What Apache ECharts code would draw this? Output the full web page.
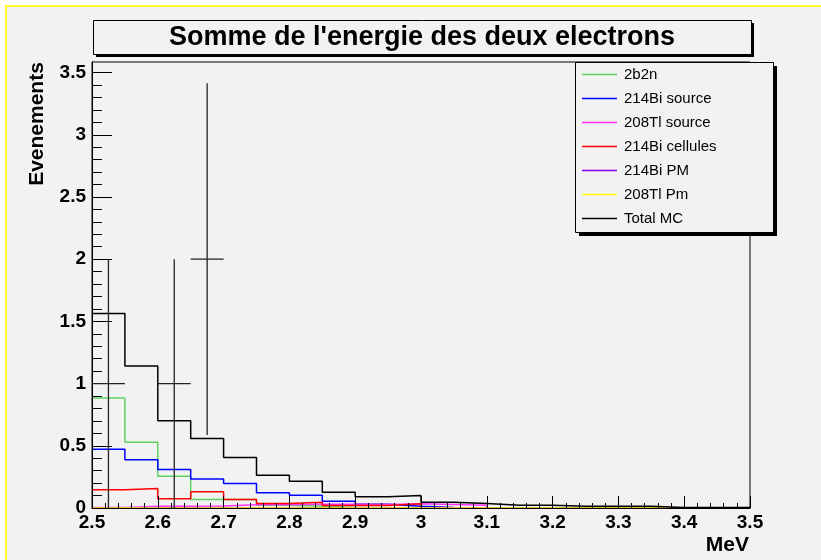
<!DOCTYPE html>
<html>
<head>
<meta charset="utf-8">
<script src="https://cdn.jsdelivr.net/npm/echarts@6/dist/echarts.min.js"></script>
<style>
html, body { margin: 0; padding: 0; background: #ffffff; }
#chart { width: 821px; height: 560px; }
</style>
</head>
<body>
<div id="chart"></div>
<script>
// Energy bins (MeV): 20 bins of 0.05 from 2.5 to 3.5
const binEdges = [2.5, 2.55, 2.6, 2.65, 2.7, 2.75, 2.8, 2.85, 2.9, 2.95, 3.0,
                  3.05, 3.1, 3.15, 3.2, 3.25, 3.3, 3.35, 3.4, 3.45, 3.5];

// Monte-Carlo histograms (events per bin)
const h2b2n        = [0.884, 0.528, 0.255, 0.068, 0.068, 0.022, 0.014, 0.004, 0.002, 0, 0, 0, 0, 0, 0, 0, 0, 0, 0, 0];
const hBiSource    = [0.472, 0.387, 0.309, 0.234, 0.196, 0.122, 0.103, 0.055, 0.030, 0.014, 0.005, 0, 0, 0, 0, 0, 0, 0, 0, 0];
const hTlSource    = [0.004, 0.014, 0.014, 0.016, 0.026, 0.026, 0.030, 0.031, 0.028, 0.034, 0.028, 0.022, 0, 0, 0, 0, 0, 0, 0, 0];
const hBiCellules  = [0.146, 0.157, 0.074, 0.130, 0.068, 0.036, 0.047, 0.020, 0.020, 0.034, 0, 0, 0, 0, 0, 0, 0, 0, 0, 0];
const hBiPM        = [0, 0, 0, 0, 0, 0, 0, 0, 0, 0, 0, 0, 0, 0, 0, 0, 0, 0, 0, 0];
const hTlPm        = [0, 0, 0, 0, 0, 0, 0, 0, 0, 0, 0, 0, 0, 0, 0, 0, 0, 0, 0, 0];
const hTotalMC     = [1.563, 1.141, 0.702, 0.558, 0.405, 0.263, 0.215, 0.127, 0.090, 0.100, 0.047, 0.036, 0.022, 0.022, 0.014, 0.014, 0.014, 0.004, 0.004, 0.004];

// Measured events: bin centre, count, statistical error
const dataX   = [2.525, 2.625, 2.675];
const dataY   = [1, 1, 2];
const dataErr = [1, 1, 1.414];

// Axis ticks
const xMax = 3.5, xMin = 2.5, xStep = 0.1;
const yMax = 3.585;
const yMajor = [0, 0.5, 1, 1.5, 2, 2.5, 3, 3.5];
const yMinor = [0.1, 0.2, 0.3, 0.4, 0.6, 0.7, 0.8, 0.9, 1.1, 1.2, 1.3, 1.4, 1.6, 1.7, 1.8, 1.9,
                2.1, 2.2, 2.3, 2.4, 2.6, 2.7, 2.8, 2.9, 3.1, 3.2, 3.3, 3.4];

const FONT = "'Liberation Sans', Arial, Helvetica, sans-serif";

// Turn per-bin contents into a stepped outline
function steps(values) {
  const pts = [];
  for (let i = 0; i < values.length; i++) {
    pts.push([binEdges[i], values[i]]);
    pts.push([binEdges[i + 1], values[i]]);
  }
  return pts;
}

function histSeries(name, values, color) {
  return {
    name: name,
    type: 'line',
    data: steps(values),
    symbol: 'none',
    showSymbol: false,
    color: color,
    lineStyle: { color: color, width: 1.5 },
    animation: false,
    z: 2
  };
}

const halfBin = (binEdges[1] - binEdges[0]) / 2;
const dataPoints = dataX.map((x, i) => [x, dataY[i], dataErr[i], halfBin]);

const chart = echarts.init(document.getElementById('chart'), null, { renderer: 'canvas' });

chart.setOption({
  backgroundColor: '#f2f2f2',
  animation: false,
  textStyle: { fontFamily: FONT },
  grid: {
    left: 92, right: 71, top: 62, bottom: 52,
    show: true, borderColor: '#000', borderWidth: 1, backgroundColor: 'transparent'
  },
  xAxis: {
    type: 'value', min: xMin, max: xMax, interval: xStep, z: 3,
    axisLine: { lineStyle: { color: '#000', width: 1 } },
    axisTick: { inside: true, length: 12, lineStyle: { color: '#000' } },
    minorTick: { show: true, splitNumber: 5, length: 5, lineStyle: { color: '#000' } },
    splitLine: { show: false },
    axisLabel: { color: '#000', fontSize: 19, fontWeight: 'bold', fontFamily: FONT, margin: 5 }
  },
  yAxis: [
    {
      type: 'value', min: 0, max: yMax, position: 'left', z: 3,
      axisLine: { show: true, lineStyle: { color: '#000', width: 1 } },
      axisTick: { show: true, inside: true, length: 20, customValues: yMajor, lineStyle: { color: '#000' } },
      splitLine: { show: false },
      axisLabel: { customValues: yMajor, color: '#000', fontSize: 19, fontWeight: 'bold', fontFamily: FONT, margin: 6 }
    },
    {
      type: 'value', min: 0, max: yMax, position: 'left', offset: 0, z: 3,
      axisLine: { show: false },
      axisTick: { show: true, inside: true, length: 10, customValues: yMinor, lineStyle: { color: '#000' } },
      splitLine: { show: false },
      axisLabel: { show: false }
    }
  ],
  legend: {
    data: ['2b2n', '214Bi source', '208Tl source', '214Bi cellules', '214Bi PM', '208Tl Pm', 'Total MC'],
    orient: 'vertical', left: 582, top: 67, padding: 0, z: 30,
    icon: 'rect', itemWidth: 35, itemHeight: 1.5, itemGap: 9,
    selectedMode: false,
    textStyle: { color: '#000', fontSize: 15, fontFamily: FONT, lineHeight: 15, padding: [0, 0, 0, 2] }
  },
  graphic: [
    // page edge
    { type: 'rect', shape: { x: 0, y: 0, width: 821, height: 5 }, style: { fill: '#ffffff' }, silent: true },
    { type: 'rect', shape: { x: 0, y: 0, width: 5, height: 560 }, style: { fill: '#ffffff' }, silent: true },
    { type: 'rect', shape: { x: 5, y: 5, width: 816, height: 2 }, style: { fill: '#ffff33' }, silent: true },
    { type: 'rect', shape: { x: 5, y: 5, width: 2, height: 555 }, style: { fill: '#ffff33' }, silent: true },
    // title box with shadow
    { type: 'rect', shape: { x: 96, y: 23, width: 658, height: 34 }, style: { fill: '#000' }, silent: true, z: 10 },
    { type: 'rect', shape: { x: 93.5, y: 20.5, width: 658, height: 34 }, style: { fill: '#f2f2f2', stroke: '#000', lineWidth: 1 }, silent: true, z: 11 },
    { type: 'text', x: 422, y: 38, style: { text: "Somme de l'energie des deux electrons", fill: '#000', font: 'bold 27px ' + FONT, align: 'center', verticalAlign: 'middle' }, silent: true, z: 12 },
    // legend box with shadow
    { type: 'rect', shape: { x: 579, y: 66, width: 198, height: 170 }, style: { fill: '#000' }, silent: true, z: 10 },
    { type: 'rect', shape: { x: 575.5, y: 62.5, width: 198, height: 170 }, style: { fill: '#f2f2f2', stroke: '#000', lineWidth: 1 }, silent: true, z: 11 },
    // axis titles
    { type: 'text', x: 749, y: 545, style: { text: 'MeV', fill: '#000', font: 'bold 21px ' + FONT, align: 'right', verticalAlign: 'middle' }, silent: true },
    { type: 'text', x: 37, y: 124, rotation: Math.PI / 2, style: { text: 'Evenements', fill: '#000', font: 'bold 21px ' + FONT, align: 'center', verticalAlign: 'middle' }, silent: true }
  ],
  series: [
    histSeries('2b2n', h2b2n, '#5fd35f'),
    histSeries('214Bi source', hBiSource, '#0000ff'),
    histSeries('208Tl source', hTlSource, '#ff33ff'),
    histSeries('214Bi cellules', hBiCellules, '#ff0000'),
    histSeries('214Bi PM', hBiPM, '#8800ff'),
    histSeries('208Tl Pm', hTlPm, '#ffff00'),
    histSeries('Total MC', hTotalMC, '#000000'),
    {
      name: 'data',
      type: 'custom',
      data: dataPoints,
      z: 5,
      animation: false,
      renderItem: function (params, api) {
        const x = api.value(0), y = api.value(1), e = api.value(2), hw = api.value(3);
        const top = api.coord([x, y + e]);
        const bot = api.coord([x, y - e]);
        const l = api.coord([x - hw, y]);
        const r = api.coord([x + hw, y]);
        const st = { stroke: '#222', lineWidth: 1.3 };
        return {
          type: 'group',
          children: [
            { type: 'line', shape: { x1: top[0], y1: top[1], x2: bot[0], y2: bot[1] }, style: st },
            { type: 'line', shape: { x1: l[0], y1: l[1], x2: r[0], y2: r[1] }, style: st }
          ]
        };
      }
    }
  ]
});
</script>
</body>
</html>
